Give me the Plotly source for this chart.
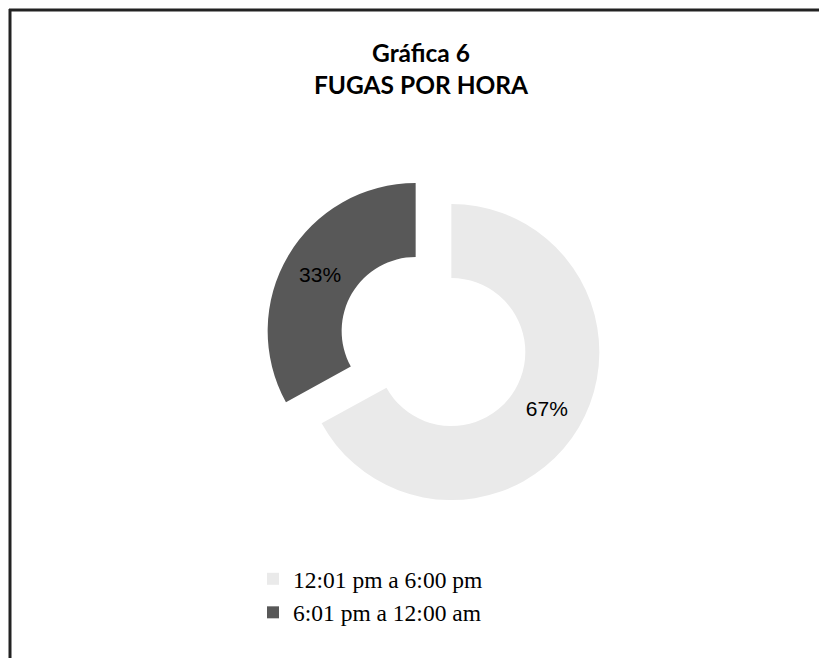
import plotly.graph_objects as go

# Data
labels = ["12:01 pm a 6:00 pm", "6:01 pm a 12:00 am"]
values = [67, 33]
colors = ["#eaeaea", "#585858"]
pulls = [0.14, 0.14]

title_line1 = "Gráfica 6"
title_line2 = "FUGAS POR HORA"

# The page body has an 8px margin, so the figure is sized to fit the window.
W, H = 811, 650

fig = go.Figure(
    go.Pie(
        labels=labels,
        values=values,
        hole=0.5,
        sort=False,
        direction="clockwise",
        rotation=0,
        pull=pulls,
        marker=dict(colors=colors, line=dict(width=0)),
        textinfo="percent",
        textposition="inside",
        insidetextorientation="horizontal",
        textfont=dict(family="Liberation Sans", size=21, color="black"),
        domain=dict(x=[0.3166, 0.7327], y=[0.2273, 0.7465]),
        showlegend=True,
    )
)

fig.update_layout(
    width=W,
    height=H,
    margin=dict(l=0, r=0, t=0, b=0),
    paper_bgcolor="white",
    plot_bgcolor="white",
    title=dict(
        text=f"{title_line1}<br>{title_line2}",
        x=413 / W,
        xanchor="center",
        xref="paper",
        y=1 - 54 / H,
        yanchor="top",
        yref="container",
        font=dict(family="Lato", size=24.5, color="black", weight="bold"),
    ),
    legend=dict(
        x=245 / W,
        xanchor="left",
        y=1 - 549 / H,
        yanchor="top",
        font=dict(family="Liberation Serif", size=23.5, color="black"),
        bgcolor="rgba(0,0,0,0)",
        traceorder="normal",
        tracegroupgap=0,
    ),
    shapes=[
        # left border of the chart frame
        dict(
            type="line",
            xref="paper",
            yref="paper",
            x0=2 / W,
            x1=2 / W,
            y0=0,
            y1=1 - 1 / H,
            line=dict(color="#222222", width=3),
        ),
        # top border of the chart frame
        dict(
            type="line",
            xref="paper",
            yref="paper",
            x0=1 / W,
            x1=1,
            y0=1 - 2 / H,
            y1=1 - 2 / H,
            line=dict(color="#222222", width=3),
        ),
    ],
)

fig.write_html("out.html")
